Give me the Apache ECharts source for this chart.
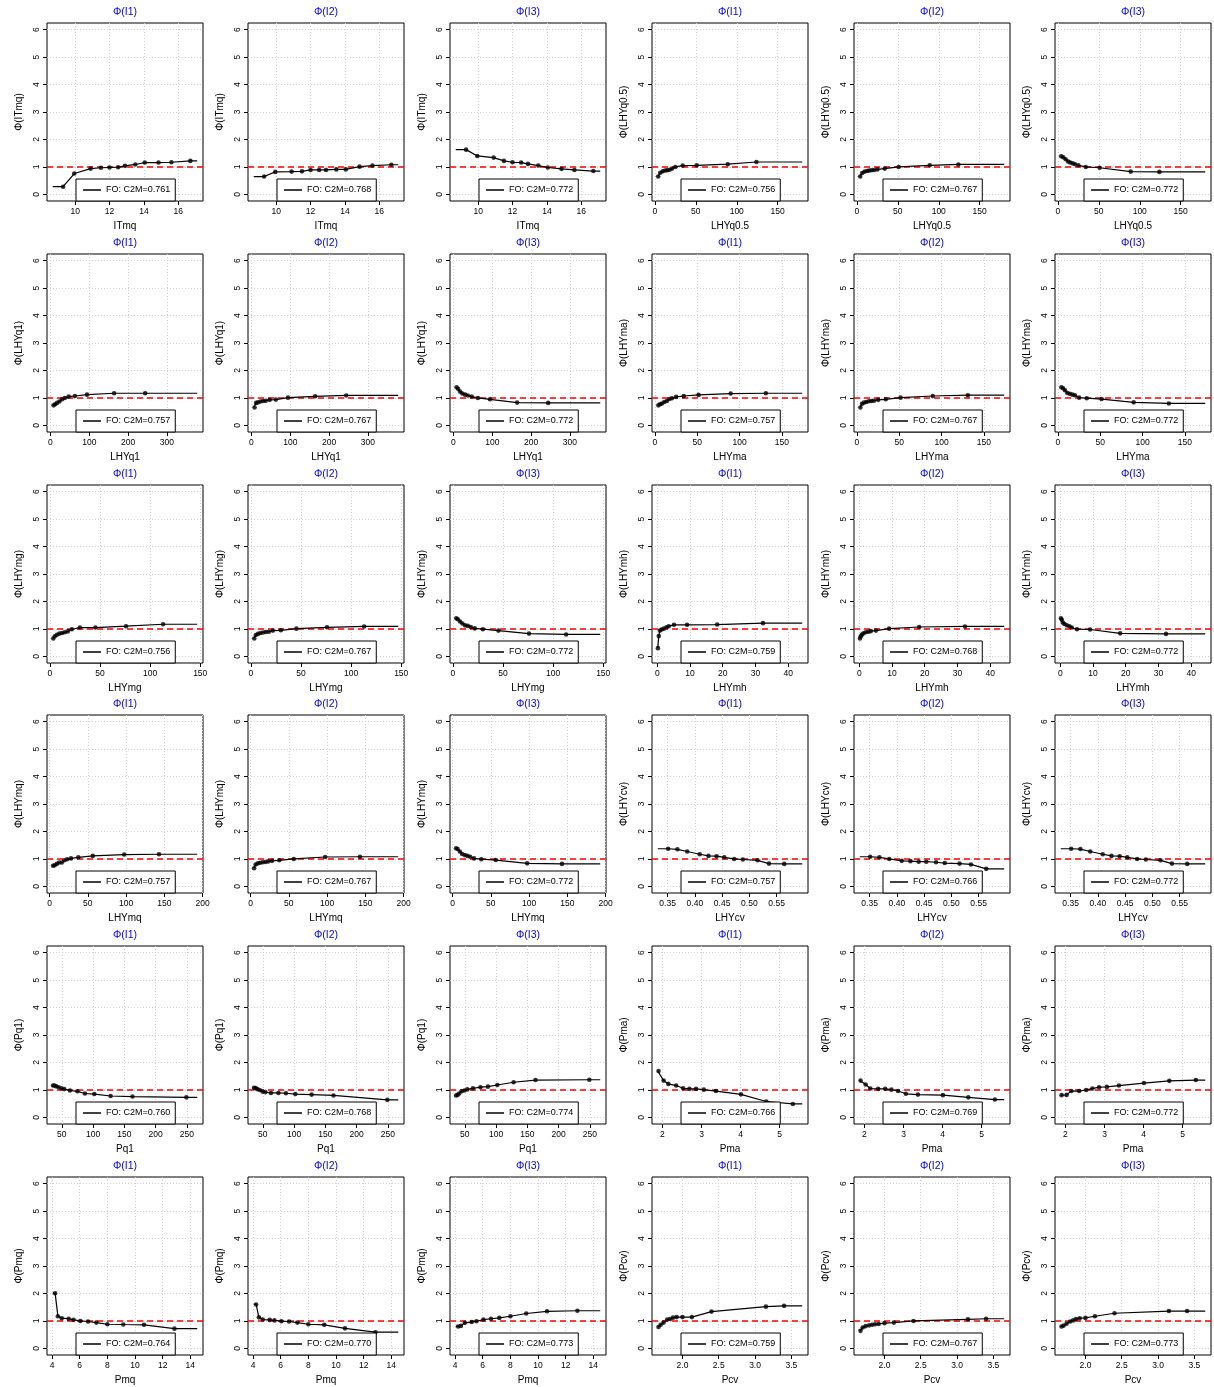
<!DOCTYPE html>
<html>
<head>
<meta charset="utf-8">
<script src="https://cdn.jsdelivr.net/npm/echarts@6/dist/echarts.min.js"></script>
<style>html,body{margin:0;padding:0;background:#fff}#c{width:1214px;height:1387px}</style>
</head>
<body>
<div id="c"></div>
<script>
// ---------- DATA ----------
const INDICES = ['I1', 'I2', 'I3'];
const Y_TICKS = ['0', '1', '2', '3', '4', '5', '6'];
const Y_LIM = [0, 6];
const REF_LINE = 1;

const ITmq_x = [9.3, 9.95, 10.9, 11.5, 12.0, 12.5, 12.9, 13.5, 14.05, 14.85, 15.6, 16.7];
const ITmq_range = [8.7, 17.1];
const ITmq_ticks = ['10', '12', '14', '16'];
const ITmq_I1 = [0.28, 0.76, 0.94, 0.97, 0.98, 0.99, 1.04, 1.09, 1.16, 1.16, 1.17, 1.22];
const ITmq_I2 = [0.65, 0.82, 0.83, 0.84, 0.89, 0.89, 0.89, 0.91, 0.91, 1.01, 1.05, 1.08];
const ITmq_I3 = [1.63, 1.40, 1.34, 1.22, 1.17, 1.16, 1.11, 1.05, 0.98, 0.93, 0.89, 0.85];
const ITmq_c2m = [0.761, 0.768, 0.772];

const LHYq05_x = [4, 6.5, 9.5, 12.5, 15, 18, 21, 25, 34, 51, 89, 124];
const LHYq05_range = [3.5, 180];
const LHYq05_ticks = ['0', '50', '100', '150'];
const LHYq05_I1 = [0.65, 0.79, 0.84, 0.87, 0.88, 0.90, 0.94, 1.00, 1.05, 1.06, 1.10, 1.18];
const LHYq05_I2 = [0.65, 0.78, 0.83, 0.85, 0.87, 0.88, 0.89, 0.91, 0.94, 1.00, 1.06, 1.09];
const LHYq05_I3 = [1.39, 1.35, 1.28, 1.20, 1.16, 1.13, 1.10, 1.06, 1.00, 0.97, 0.83, 0.82];
const LHYq05_c2m = [0.756, 0.767, 0.772];

const LHYq1_x = [8, 12, 17, 23, 30, 37, 47, 63, 94, 164, 244];
const LHYq1_range = [6, 378];
const LHYq1_ticks = ['0', '100', '200', '300'];
const LHYq1_I1 = [0.73, 0.77, 0.82, 0.87, 0.95, 1.00, 1.05, 1.07, 1.12, 1.17, 1.17];
const LHYq1_I2 = [0.65, 0.82, 0.84, 0.87, 0.89, 0.90, 0.93, 0.94, 1.01, 1.06, 1.09];
const LHYq1_I3 = [1.39, 1.33, 1.23, 1.16, 1.12, 1.09, 1.05, 1.00, 0.95, 0.83, 0.82];
const LHYq1_c2m = [0.757, 0.767, 0.772];

const LHYma_x = [4, 6, 8.3, 11, 14, 17, 20, 25, 34, 51.5, 89.5, 131];
const LHYma_range = [3.3, 174];
const LHYma_ticks = ['0', '50', '100', '150'];
const LHYma_I1 = [0.73, 0.77, 0.80, 0.85, 0.89, 0.96, 0.99, 1.04, 1.07, 1.11, 1.16, 1.17];
const LHYma_I2 = [0.65, 0.79, 0.83, 0.85, 0.88, 0.89, 0.90, 0.93, 0.95, 1.01, 1.07, 1.10];
const LHYma_I3 = [1.39, 1.35, 1.28, 1.18, 1.15, 1.12, 1.10, 1.01, 0.99, 0.96, 0.84, 0.80];
const LHYma_c2m = [0.757, 0.767, 0.772];

const LHYmg_x = [3.5, 5, 7.2, 9.6, 12.2, 15, 18, 22, 30, 45.5, 76, 113];
const LHYmg_range = [3.0, 147];
const LHYmg_ticks = ['0', '50', '100', '150'];
const LHYmg_I1 = [0.65, 0.73, 0.79, 0.83, 0.85, 0.88, 0.91, 0.99, 1.05, 1.05, 1.10, 1.17];
const LHYmg_I2 = [0.65, 0.78, 0.82, 0.85, 0.87, 0.89, 0.90, 0.94, 0.95, 1.01, 1.06, 1.09];
const LHYmg_I3 = [1.39, 1.35, 1.27, 1.20, 1.13, 1.11, 1.07, 1.02, 0.99, 0.94, 0.83, 0.80];
const LHYmg_c2m = [0.756, 0.767, 0.772];

const LHYmh_x = [0.2, 0.45, 0.8, 1.3, 2.0, 2.8, 3.5, 5.1, 9.1, 18.3, 32.3];
const LHYmh_range = [0.15, 44.3];
const LHYmh_ticks = ['0', '10', '20', '30', '40'];
const LHYmh_I1 = [0.30, 0.74, 0.94, 0.98, 1.01, 1.06, 1.10, 1.15, 1.15, 1.16, 1.21];
const LHYmh_I2 = [0.65, 0.73, 0.80, 0.84, 0.88, 0.90, 0.92, 0.94, 1.01, 1.07, 1.09];
const LHYmh_I3 = [1.39, 1.33, 1.23, 1.18, 1.13, 1.10, 1.05, 0.99, 0.98, 0.84, 0.82];
const LHYmh_c2m = [0.759, 0.768, 0.772];

const LHYmq_x = [4.6, 6.6, 9.5, 12.5, 16, 19.5, 23, 28, 37.5, 56.5, 97.5, 143];
const LHYmq_range = [4.2, 193];
const LHYmq_ticks = ['0', '50', '100', '150', '200'];
const LHYmq_I1 = [0.75, 0.77, 0.82, 0.87, 0.87, 0.95, 0.99, 1.02, 1.06, 1.11, 1.16, 1.17];
const LHYmq_I2 = [0.66, 0.80, 0.84, 0.86, 0.88, 0.89, 0.91, 0.93, 0.95, 1.00, 1.07, 1.08];
const LHYmq_I3 = [1.39, 1.36, 1.27, 1.18, 1.14, 1.11, 1.08, 1.02, 0.99, 0.96, 0.84, 0.82];
const LHYmq_c2m = [0.757, 0.767, 0.772];

const LHYcv_x = [0.351, 0.368, 0.386, 0.409, 0.425, 0.44, 0.454, 0.472, 0.488, 0.515, 0.536, 0.564];
const LHYcv_range = [0.332, 0.597];
const LHYcv_ticks = ['0.35', '0.40', '0.45', '0.50', '0.55'];
const LHYcv_I1 = [1.37, 1.35, 1.27, 1.17, 1.11, 1.10, 1.06, 1.00, 0.98, 0.95, 0.83, 0.82];
const LHYcv_I2 = [1.08, 1.06, 1.00, 0.93, 0.92, 0.90, 0.90, 0.88, 0.85, 0.83, 0.80, 0.64];
const LHYcv_I3 = [1.37, 1.36, 1.27, 1.17, 1.11, 1.10, 1.06, 1.00, 0.98, 0.95, 0.83, 0.82];
const LHYcv_c2m = [0.757, 0.766, 0.772];

const Pq1_x = [36, 38.5, 41, 45, 49.5, 54, 63, 75, 87, 102, 128, 163, 249];
const Pq1_range = [35.6, 266.4];
const Pq1_ticks = ['50', '100', '150', '200', '250'];
const Pq1_I1 = [1.16, 1.16, 1.13, 1.10, 1.06, 1.03, 0.98, 0.95, 0.87, 0.85, 0.78, 0.76, 0.73];
const Pq1_I2 = [1.08, 1.07, 1.03, 1.00, 0.94, 0.92, 0.89, 0.89, 0.88, 0.85, 0.83, 0.80, 0.64];
const Pq1_I3 = [0.80, 0.82, 0.87, 0.95, 0.98, 1.02, 1.06, 1.10, 1.12, 1.18, 1.28, 1.36, 1.37];
const Pq1_c2m = [0.760, 0.768, 0.774];

const Pma_x = [1.9, 2.03, 2.15, 2.35, 2.53, 2.69, 2.86, 3.06, 3.37, 4.01, 4.66, 5.34];
const Pma_range = [1.88, 5.58];
const Pma_ticks = ['2', '3', '4', '5'];
const Pma_I1 = [1.69, 1.34, 1.22, 1.16, 1.06, 1.04, 1.04, 1.01, 0.96, 0.84, 0.58, 0.49];
const Pma_I2 = [1.34, 1.20, 1.05, 1.04, 1.04, 1.01, 0.96, 0.86, 0.83, 0.81, 0.73, 0.65];
const Pma_I3 = [0.81, 0.82, 0.96, 0.96, 1.00, 1.05, 1.10, 1.11, 1.16, 1.25, 1.33, 1.36];
const Pma_c2m = [0.766, 0.769, 0.772];

const Pmq_x = [4.22, 4.42, 4.7, 5.2, 5.55, 6.05, 6.6, 7.2, 8.0, 9.15, 10.65, 12.85];
const Pmq_range = [4.05, 14.5];
const Pmq_ticks = ['4', '6', '8', '10', '12', '14'];
const Pmq_I1 = [2.01, 1.17, 1.10, 1.08, 1.04, 1.00, 0.98, 0.94, 0.88, 0.87, 0.86, 0.72];
const Pmq_I2 = [1.60, 1.13, 1.05, 1.04, 1.02, 0.99, 0.98, 0.94, 0.88, 0.86, 0.73, 0.59];
const Pmq_I3 = [0.80, 0.82, 0.93, 0.96, 0.99, 1.05, 1.08, 1.11, 1.17, 1.27, 1.35, 1.37];
const Pmq_c2m = [0.764, 0.770, 0.773];

const Pcv_x = [1.67, 1.70, 1.74, 1.79, 1.83, 1.87, 1.92, 2.0, 2.13, 2.4, 3.15, 3.4];
const Pcv_range = [1.66, 3.65];
const Pcv_ticks = ['2.0', '2.5', '3.0', '3.5'];
const Pcv_I1 = [0.78, 0.86, 0.94, 1.05, 1.07, 1.12, 1.14, 1.14, 1.14, 1.34, 1.52, 1.55];
const Pcv_I2 = [0.64, 0.76, 0.81, 0.84, 0.86, 0.88, 0.89, 0.92, 0.94, 1.00, 1.06, 1.08];
const Pcv_I3 = [0.80, 0.83, 0.90, 0.98, 1.02, 1.07, 1.10, 1.11, 1.17, 1.28, 1.36, 1.36];
const Pcv_c2m = [0.759, 0.767, 0.773];

const VARS = [
  {name: 'ITmq',    x: ITmq_x,   range: ITmq_range,   ticks: ITmq_ticks,   ys: [ITmq_I1, ITmq_I2, ITmq_I3],       c2m: ITmq_c2m},
  {name: 'LHYq0.5', x: LHYq05_x, range: LHYq05_range, ticks: LHYq05_ticks, ys: [LHYq05_I1, LHYq05_I2, LHYq05_I3], c2m: LHYq05_c2m},
  {name: 'LHYq1',   x: LHYq1_x,  range: LHYq1_range,  ticks: LHYq1_ticks,  ys: [LHYq1_I1, LHYq1_I2, LHYq1_I3],    c2m: LHYq1_c2m},
  {name: 'LHYma',   x: LHYma_x,  range: LHYma_range,  ticks: LHYma_ticks,  ys: [LHYma_I1, LHYma_I2, LHYma_I3],    c2m: LHYma_c2m},
  {name: 'LHYmg',   x: LHYmg_x,  range: LHYmg_range,  ticks: LHYmg_ticks,  ys: [LHYmg_I1, LHYmg_I2, LHYmg_I3],    c2m: LHYmg_c2m},
  {name: 'LHYmh',   x: LHYmh_x,  range: LHYmh_range,  ticks: LHYmh_ticks,  ys: [LHYmh_I1, LHYmh_I2, LHYmh_I3],    c2m: LHYmh_c2m},
  {name: 'LHYmq',   x: LHYmq_x,  range: LHYmq_range,  ticks: LHYmq_ticks,  ys: [LHYmq_I1, LHYmq_I2, LHYmq_I3],    c2m: LHYmq_c2m},
  {name: 'LHYcv',   x: LHYcv_x,  range: LHYcv_range,  ticks: LHYcv_ticks,  ys: [LHYcv_I1, LHYcv_I2, LHYcv_I3],    c2m: LHYcv_c2m},
  {name: 'Pq1',     x: Pq1_x,    range: Pq1_range,    ticks: Pq1_ticks,    ys: [Pq1_I1, Pq1_I2, Pq1_I3],          c2m: Pq1_c2m},
  {name: 'Pma',     x: Pma_x,    range: Pma_range,    ticks: Pma_ticks,    ys: [Pma_I1, Pma_I2, Pma_I3],          c2m: Pma_c2m},
  {name: 'Pmq',     x: Pmq_x,    range: Pmq_range,    ticks: Pmq_ticks,    ys: [Pmq_I1, Pmq_I2, Pmq_I3],          c2m: Pmq_c2m},
  {name: 'Pcv',     x: Pcv_x,    range: Pcv_range,    ticks: Pcv_ticks,    ys: [Pcv_I1, Pcv_I2, Pcv_I3],          c2m: Pcv_c2m}
];

// ---------- LAYOUT / STYLE ----------
const FONT = '"Liberation Sans", Arial, Helvetica, sans-serif';
const BOX_L0 = 46.5, COL_PITCH = 201.75, BOX_W = 156;
const BOX_T0 = 23.3, ROW_PITCH = 230.7, BOX_H = 178;
const LEG_H = 22, LEG_OFF = 29;

function fmtTick(labels, v) {
  for (const s of labels) if (Math.abs(Number(s) - v) < 1e-9) return s;
  return String(v);
}

const grids = [], xAxes = [], yAxes = [], series = [], titles = [], legends = [];
const yTickVals = Y_TICKS.map(Number);
const ySpan = Y_LIM[1] - Y_LIM[0];

for (let r = 0; r < 6; r++) {
  for (let c = 0; c < 6; c++) {
    const p = r * 6 + c;
    const V = VARS[r * 2 + Math.floor(c / 3)];
    const k = c % 3;
    const L = Math.round(BOX_L0 + c * COL_PITCH);
    const T = Math.round(BOX_T0 + r * ROW_PITCH);
    grids.push({left: L, top: T, width: BOX_W, height: BOX_H, show: true,
      borderColor: '#000', borderWidth: 1, backgroundColor: '#fff', containLabel: false});

    const span = V.range[1] - V.range[0];
    const xTickVals = V.ticks.map(Number);
    xAxes.push({
      type: 'value', gridIndex: p,
      min: V.range[0] - 0.04 * span, max: V.range[1] + 0.04 * span,
      name: V.name, nameLocation: 'middle', nameGap: 20,
      nameTextStyle: {fontFamily: FONT, fontSize: 10, color: '#000'},
      axisLine: {show: false, onZero: false},
      axisTick: {show: true, length: 4, customValues: xTickVals, lineStyle: {color: '#000', width: 1}},
      axisLabel: {customValues: xTickVals, formatter: (v) => fmtTick(V.ticks, v),
        fontFamily: FONT, fontSize: 8.5, color: '#000', margin: 6},
      splitLine: {show: false}
    });
    yAxes.push({
      type: 'value', gridIndex: p,
      min: Y_LIM[0] - 0.04 * ySpan, max: Y_LIM[1] + 0.04 * ySpan,
      name: 'Φ(' + V.name + ')', nameLocation: 'middle', nameGap: 23, nameRotate: 90,
      nameTextStyle: {fontFamily: FONT, fontSize: 10, color: '#000'},
      axisLine: {show: false, onZero: false},
      axisTick: {show: true, length: 4, customValues: yTickVals, lineStyle: {color: '#000', width: 1}},
      axisLabel: {customValues: yTickVals, formatter: (v) => fmtTick(Y_TICKS, v), rotate: 90,
        fontFamily: FONT, fontSize: 8.5, color: '#000', margin: 6},
      splitLine: {show: false}
    });

    const ys = V.ys[k];
    const pts = V.x.map((xv, i) => [xv, ys[i]]);
    const lineData = [[V.range[0], ys[0]]].concat(pts, [[V.range[1], ys[ys.length - 1]]]);
    const legName = 'FO: C2M=' + V.c2m[k].toFixed(3);
    const gridLines = xTickVals.map(v => ({xAxis: v})).concat(yTickVals.map(v => ({yAxis: v})));

    series.push({
      type: 'line', name: legName, xAxisIndex: p, yAxisIndex: p, data: lineData,
      symbol: 'none', silent: true, animation: false, z: 3,
      lineStyle: {color: '#000', width: 1.2}, itemStyle: {color: '#000'},
      markLine: {z: 1, silent: true, animation: false, symbol: ['none', 'none'],
        label: {show: false}, emphasis: {disabled: true},
        lineStyle: {color: '#cfcfcf', type: [1, 2], width: 1}, data: gridLines}
    });
    series.push({
      type: 'scatter', name: 'pts' + p, xAxisIndex: p, yAxisIndex: p, data: pts,
      symbol: 'circle', symbolSize: 4.6, silent: true, animation: false, z: 4,
      itemStyle: {color: '#000'},
      markLine: {z: 2, silent: true, animation: false, symbol: ['none', 'none'],
        label: {show: false}, emphasis: {disabled: true},
        lineStyle: {color: '#ff0000', type: [6, 4], width: 1.6}, data: [{yAxis: REF_LINE}]}
    });

    titles.push({text: 'Φ(' + INDICES[k] + ')', left: L + BOX_W / 2, top: T - 16, textAlign: 'center',
      padding: 0, textStyle: {fontFamily: FONT, fontSize: 10.5, fontWeight: 'normal', color: '#0000ff'}});

    legends.push({
      data: [{name: legName}], left: L + LEG_OFF, top: T + BOX_H - LEG_H,
      orient: 'horizontal', padding: [5.5, 5, 5.5, 7], itemWidth: 18, itemHeight: 1.5,
      icon: 'rect', itemGap: 0, selectedMode: false,
      borderColor: '#000', borderWidth: 1, borderRadius: 0, backgroundColor: '#fff', z: 6,
      itemStyle: {color: '#000'},
      textStyle: {fontFamily: FONT, fontSize: 9, color: '#000', lineHeight: 11}
    });
  }
}

const chart = echarts.init(document.getElementById('c'), null, {renderer: 'canvas'});
chart.setOption({
  animation: false,
  backgroundColor: '#fff',
  title: titles,
  legend: legends,
  grid: grids,
  xAxis: xAxes,
  yAxis: yAxes,
  series: series
});
</script>
</body>
</html>
